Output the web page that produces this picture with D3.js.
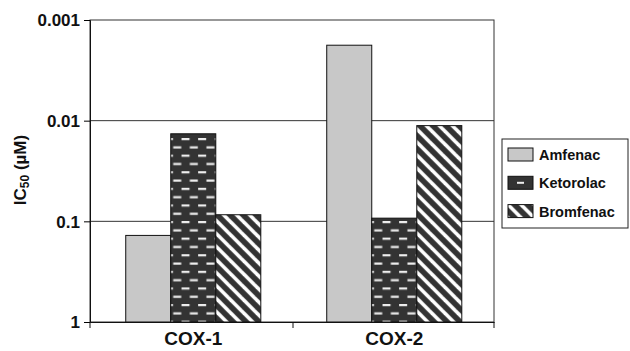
<!DOCTYPE html>
<html>
<head>
<meta charset="utf-8">
<script src="https://cdn.jsdelivr.net/npm/d3@7"></script>
<style>
	body { margin: 0; background: #fff; }
	text { font-family: Arial, "Liberation Sans", sans-serif; font-weight: bold; fill: #111; }
</style>
</head>
<body>
<script>
// data
let categories = ['COX-1', 'COX-2'];
let drugs = ['Amfenac', 'Ketorolac', 'Bromfenac'];
let amfenac = [0.138, 0.00178];
let ketorolac = [0.0135, 0.093];
let bromfenac = [0.086, 0.0112];
let tickValues = [1, 0.1, 0.01, 0.001];
let tickLabels = ['1', '0.1', '0.01', '0.001'];

let series = [amfenac, ketorolac, bromfenac];

let svg = d3.select('body').append('svg')
	.attr('width', 630)
	.attr('height', 351);

//patterns
let defs = svg.append('defs');

let dash = defs.append('pattern')
	.attr('id', 'dashes')
	.attr('patternUnits', 'userSpaceOnUse')
	.attr('x', 172)
	.attr('y', 138)
	.attr('width', 16.6)
	.attr('height', 16.6);
dash.append('rect').attr('width', 16.6).attr('height', 16.6).attr('fill', '#333');
dash.append('rect').attr('x', 0).attr('y', 0).attr('width', 8).attr('height', 2.2).attr('fill', '#eee');
dash.append('rect').attr('x', 8.3).attr('y', 8.3).attr('width', 8).attr('height', 2.2).attr('fill', '#eee');

let p = 13;
let stripe = defs.append('pattern')
	.attr('id', 'stripes')
	.attr('patternUnits', 'userSpaceOnUse')
	.attr('width', p)
	.attr('height', p);
stripe.append('rect').attr('width', p).attr('height', p).attr('fill', '#333');
[[-p, 0], [0, 0], [p, 0]].forEach(function(o) {
	stripe.append('line')
		.attr('x1', o[0] - p).attr('y1', -p)
		.attr('x2', o[0] + 2 * p).attr('y2', 2 * p)
		.attr('stroke', '#fff')
		.attr('stroke-width', 3.6);
});

let fills = ['#c8c8c8', 'url(#dashes)', 'url(#stripes)'];

//scales
let x0 = d3.scaleBand()
	.domain(categories)
	.range([90, 494])
	.paddingInner(0.328)
	.paddingOuter(0.169)
	.align(0.526);

let x1 = d3.scaleBand()
	.domain(d3.range(drugs.length))
	.range([0, x0.bandwidth()]);

let y = d3.scaleLog()
	.domain([1, 0.001])
	.range([322, 20]);

//plot frame + gridlines
svg.append('rect')
	.attr('x', 90).attr('y', 20)
	.attr('width', 404).attr('height', 302)
	.attr('fill', 'none')
	.attr('stroke', '#333');

svg.append('g')
	.selectAll('line')
	.data([0.1, 0.01])
	.enter()
	.append('line')
	.attr('x1', 90).attr('x2', 494)
	.attr('y1', d => y(d)).attr('y2', d => y(d))
	.attr('stroke', '#333');

//bars
categories.forEach(function(c, ci) {
	svg.append('g')
		.attr('transform', 'translate(' + x0(c) + ',0)')
		.selectAll('rect')
		.data(series.map(s => s[ci]))
		.enter()
		.append('rect')
		.attr('x', (d, i) => x1(i))
		.attr('y', d => y(d))
		.attr('width', x1.bandwidth())
		.attr('height', d => y(1) - y(d))
		.attr('fill', (d, i) => fills[i])
		.attr('stroke', '#111')
		.attr('stroke-width', 1);
});

//y axis
let yAxis = svg.append('g')
	.attr('transform', 'translate(90,0)')
	.call(d3.axisLeft(y).tickValues(tickValues).tickSize(6).tickPadding(4)
		.tickFormat((d, i) => tickLabels[i]));
yAxis.select('.domain').attr('stroke', '#111');
yAxis.selectAll('text').attr('font-size', '17px').attr('font-family', 'Arial, "Liberation Sans", sans-serif').attr('fill', '#111').attr('dy', '0.35em');

//x axis
let xAxis = svg.append('g')
	.attr('transform', 'translate(0,322)')
	.call(d3.axisBottom(x0).tickSize(0).tickPadding(10));
xAxis.select('.domain').attr('stroke', '#111');
xAxis.selectAll('text').attr('font-size', '19px').attr('font-family', 'Arial, "Liberation Sans", sans-serif').attr('fill', '#111');

// category dividers
svg.append('g')
	.selectAll('line')
	.data([90, 293, 494])
	.enter()
	.append('line')
	.attr('x1', d => d).attr('x2', d => d)
	.attr('y1', 322).attr('y2', 328)
	.attr('stroke', '#111');

//y label
let ylab = svg.append('text')
	.attr('transform', 'translate(26,170) rotate(-90)')
	.attr('text-anchor', 'middle')
	.attr('font-size', '17px');
ylab.append('tspan').text('IC');
ylab.append('tspan').attr('font-size', '12px').attr('dy', 3).text('50');
ylab.append('tspan').attr('dy', -3).text(' (\u00b5M)');

//legend
let legend = svg.append('g');
legend.append('rect')
	.attr('x', 502).attr('y', 139)
	.attr('width', 126).attr('height', 89)
	.attr('fill', '#fff')
	.attr('stroke', '#222');

let items = legend.selectAll('g.item')
	.data(drugs)
	.enter()
	.append('g')
	.attr('transform', (d, i) => 'translate(508,' + (148 + i * 28.3) + ')');

items.append('rect')
	.attr('width', 25).attr('height', 13)
	.attr('fill', (d, i) => i == 1 ? '#333' : fills[i])
	.attr('stroke', '#111');

// single dash in the Ketorolac swatch
legend.append('rect')
	.attr('x', 517).attr('y', 148 + 28.3 + 5.5)
	.attr('width', 7).attr('height', 2)
	.attr('fill', '#eee');

items.append('text')
	.attr('x', 31)
	.attr('y', 7)
	.attr('dy', '0.35em')
	.attr('font-size', '14.5px')
	.text(d => d);
</script>
</body>
</html>
